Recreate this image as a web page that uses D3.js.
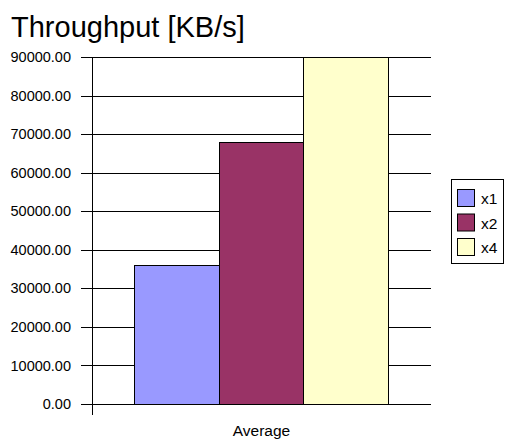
<!DOCTYPE html>
<html>
<head>
<meta charset="utf-8">
<script src="https://cdn.jsdelivr.net/npm/d3@7"></script>
<style>
  html, body { margin: 0; padding: 0; background: #fff; }
  svg { display: block; font-family: Arial, "Liberation Sans", sans-serif; }
</style>
</head>
<body>
<svg id="chart" width="506" height="441"></svg>
<script>
// Average throughput per configuration
const categories = ["Average"];
const seriesNames = ["x1", "x2", "x4"];
const seriesValues = [35900, 67900, 89900];
const seriesColors = ["#9999FF", "#993366", "#FFFFCC"];
const yTicks = [0, 10000, 20000, 30000, 40000, 50000, 60000, 70000, 80000, 90000];

const FONT = "Arial, 'Liberation Sans', sans-serif";
const svg = d3.select("#chart");
const plot = { left: 92, right: 431, top: 57, bottom: 404 };

const y = d3.scaleLinear().domain([0, 90000]).range([plot.bottom, plot.top]);
const x = d3.scaleBand().domain(categories).range([plot.left, plot.right]);
// bars fill the middle of the category, half a bar width of gap each side
const inner = d3.scaleBand().domain(seriesNames)
  .range([0, x.bandwidth()]).paddingOuter(0.5).paddingInner(0);

// title
svg.append("text")
  .attr("x", 11).attr("y", 37)
  .attr("font-size", 29)
  .attr("fill", "#000")
  .text("Throughput [KB/s]");

// gridlines with tick marks extending to the left
const yAxis = d3.axisLeft(y).tickValues(yTicks)
  .tickSize(-(plot.right - plot.left))
  .tickFormat(d => d3.format(".2f")(d));
const gy = svg.append("g")
  .attr("transform", `translate(${plot.left},0)`)
  .call(yAxis);
gy.select(".domain").remove();
gy.selectAll(".tick line")
  .attr("x1", -11)
  .attr("stroke", "#000")
  .attr("shape-rendering", "crispEdges");
gy.selectAll(".tick text")
  .attr("x", -21)
  .attr("font-size", 14.5)
  .attr("fill", "#000")
  .attr("font-family", FONT);

// bars
svg.append("g").selectAll("rect")
  .data(seriesNames.map((s, i) => ({ s, v: seriesValues[i], c: seriesColors[i] })))
  .join("rect")
  .attr("x", d => x(categories[0]) + inner(d.s))
  .attr("y", d => y(d.v))
  .attr("width", inner.bandwidth())
  .attr("height", d => y(0) - y(d.v))
  .attr("fill", d => d.c)
  .attr("stroke", "#000")
  .attr("stroke-width", 1)
  .attr("shape-rendering", "crispEdges");

// value axis line and category axis
svg.append("line")
  .attr("x1", plot.left).attr("x2", plot.left)
  .attr("y1", plot.top).attr("y2", plot.bottom + 11)
  .attr("stroke", "#000").attr("shape-rendering", "crispEdges");
svg.append("line")
  .attr("x1", plot.left - 11).attr("x2", plot.right)
  .attr("y1", y(0)).attr("y2", y(0))
  .attr("stroke", "#000").attr("shape-rendering", "crispEdges");

const xAxis = d3.axisBottom(x).tickSize(0).tickPadding(0);
const gx = svg.append("g")
  .attr("transform", `translate(0,${plot.bottom})`)
  .call(xAxis);
gx.select(".domain").remove();
gx.selectAll(".tick text")
  .attr("y", 32)
  .attr("dy", 0)
  .attr("font-size", 15.5)
  .attr("fill", "#000")
  .attr("font-family", FONT);

// legend
const legend = svg.append("g").attr("transform", "translate(451,179)");
legend.append("rect")
  .attr("x", 0.5).attr("y", 0.5)
  .attr("width", 52).attr("height", 84)
  .attr("fill", "#fff").attr("stroke", "#000");
const items = legend.selectAll("g.item")
  .data(seriesNames)
  .join("g")
  .attr("class", "item")
  .attr("transform", (d, i) => `translate(0,${10 + i * 24.5})`);
items.append("rect")
  .attr("x", 6.5).attr("y", 0.5)
  .attr("width", 17).attr("height", 17)
  .attr("fill", (d, i) => seriesColors[i])
  .attr("stroke", "#000");
items.append("text")
  .attr("x", 30).attr("y", 15)
  .attr("font-size", 15.5)
  .attr("fill", "#000")
  .text(d => d);
</script>
</body>
</html>
